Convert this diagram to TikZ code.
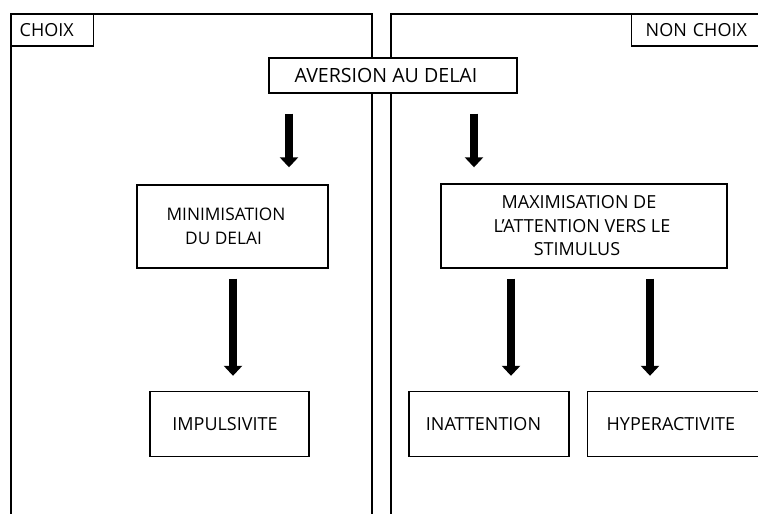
\documentclass[tikz,border=0pt]{standalone}
\usepackage{fontspec}
\setmainfont{Open Sans}
\usetikzlibrary{arrows.meta}
\begin{document}
\begin{tikzpicture}[x=1pt,y=-1pt,
  frame/.style={line width=1.7pt},
  box/.style={draw,line width=1.4pt,fill=white,inner ysep=0pt,
    font=\fontsize{18}{23.5}\selectfont,align=center},
  bigarrow/.style={line width=8pt,
    -{Triangle[width=18pt,length=10pt]}}]
\useasboundingbox (0,0) rectangle (758,514);
\clip (0,0) rectangle (758,514);
\fill[white] (0,0) rectangle (758,514);

% the two panels (open at the bottom)
\draw[frame] (11,520) -- (11,14) -- (372,14) -- (372,520);
\draw[frame] (391,520) -- (391,14) -- (770,14);

% panel titles
\node[box,anchor=west,minimum height=32pt,inner xsep=8pt,text width=66pt,align=left]
  (choix) at (11,30) {CHOIX};
\node[box,anchor=west,minimum height=32pt,inner xsep=14pt,text width=140pt,align=left]
  (nonchoix) at (631,30) {NON CHOIX};

% boxes
\node[box,minimum width=248pt,minimum height=35pt,font=\fontsize{19.6}{24}\selectfont]
  (aversion) at (393,75.5) {\hspace*{-14pt}AVERSION AU DELAI};
\node[box,minimum width=191pt,minimum height=83pt,font=\fontsize{17.3}{24}\selectfont]
  (mini) at (232.5,226.5) {\hspace*{-13pt}MINIMISATION\\\hspace*{-18pt}DU DELAI};
\node[box,minimum width=286pt,minimum height=84pt] (maxi) at (584,226)
  {\hspace*{-10pt}MAXIMISATION DE\\\hspace*{-4pt}L’ATTENTION VERS LE\\\hspace*{-14pt}STIMULUS};
\node[box,minimum width=159pt,minimum height=65pt] (impuls) at (229.5,424)
  {\hspace*{-9pt}IMPULSIVITE};
\node[box,minimum width=160pt,minimum height=65pt] (inatt) at (489,424)
  {\hspace*{-11pt}INATTENTION};
\node[box,anchor=west,minimum height=65pt,inner xsep=19pt,text width=160pt,align=left]
  (hyper) at (587,424) {HYPERACTIVITE};

% arrow columns
\coordinate (xa) at (289,0);
\coordinate (xb) at (474,0);
\coordinate (xc) at (233,0);
\coordinate (xd) at (511,0);
\coordinate (xe) at (650,0);

% arrows
\draw[bigarrow,shorten <=20pt,shorten >=17pt] (aversion.south -| xa) -- (mini.north -| xa);
\draw[bigarrow,shorten <=20pt,shorten >=16pt] (aversion.south -| xb) -- (maxi.north -| xb);
\draw[bigarrow,shorten <=10pt,shorten >=15pt] (mini.south -| xc) -- (impuls.north -| xc);
\draw[bigarrow,shorten <=10pt,shorten >=15pt] (maxi.south -| xd) -- (inatt.north -| xd);
\draw[bigarrow,shorten <=10pt,shorten >=15pt] (maxi.south -| xe) -- (hyper.north -| xe);
\end{tikzpicture}
\end{document}
